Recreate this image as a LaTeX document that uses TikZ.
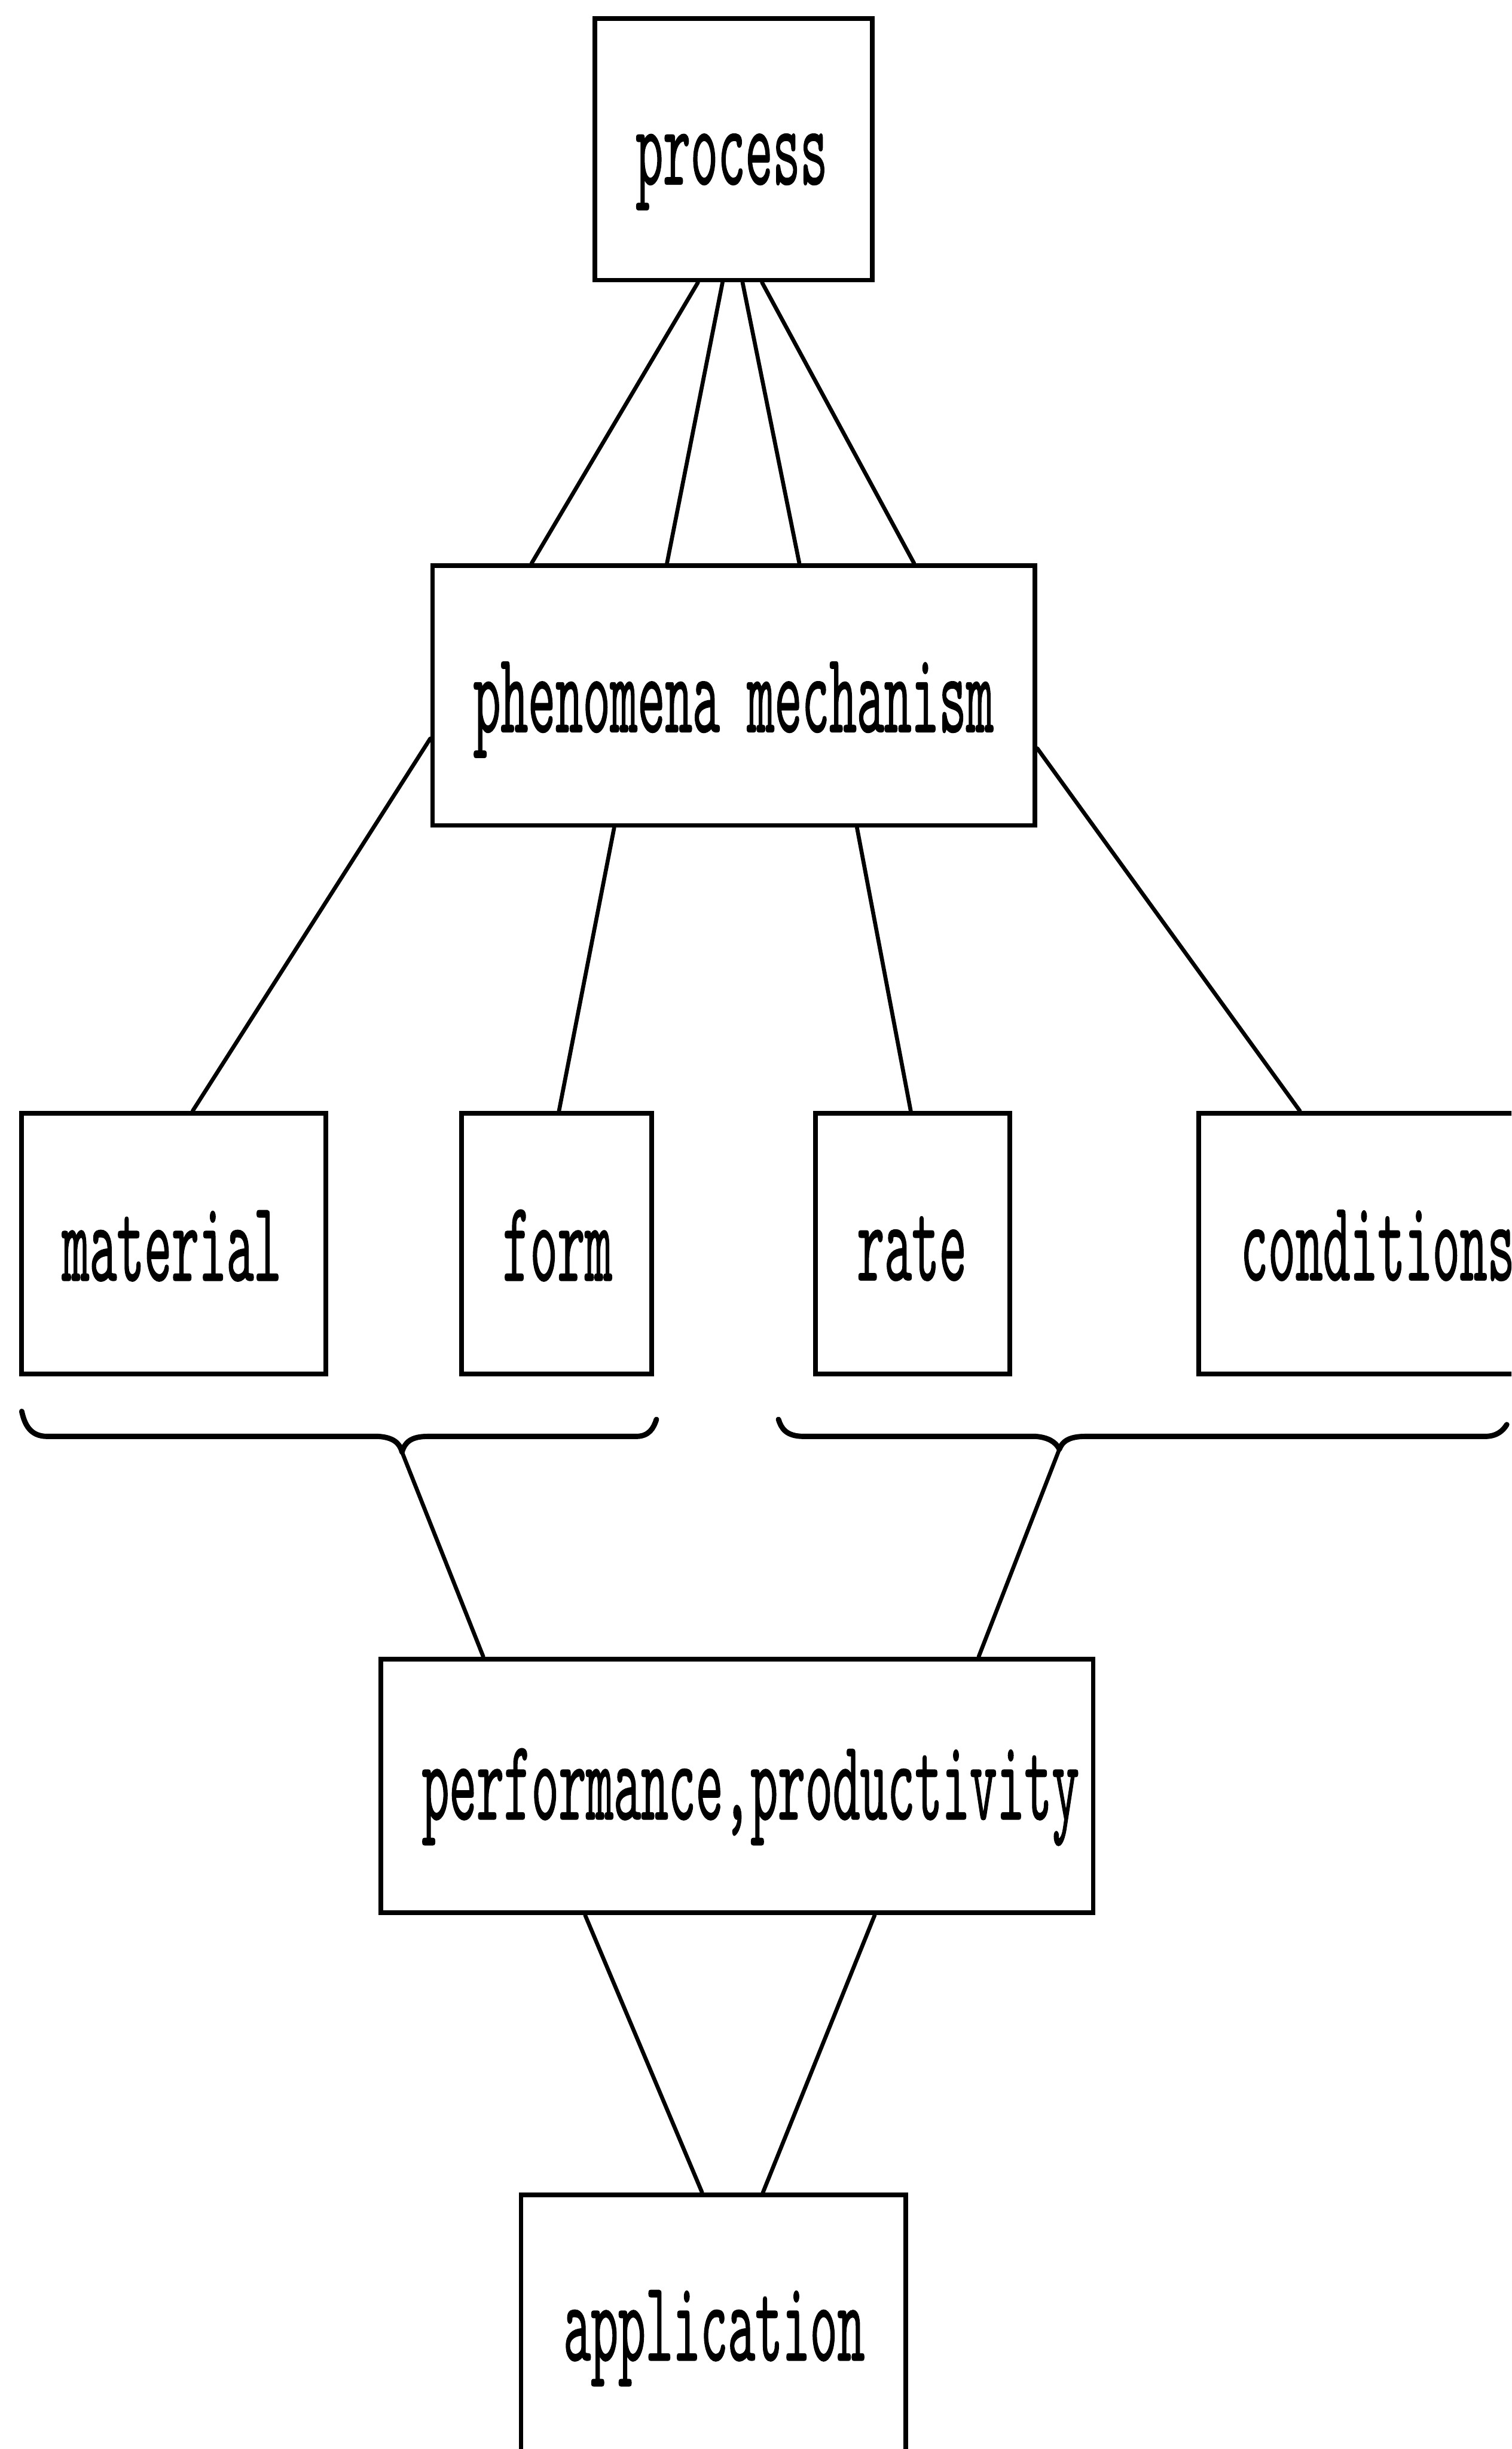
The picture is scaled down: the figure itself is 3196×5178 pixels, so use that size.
\documentclass[tikz,border=0pt]{standalone}
\usepackage{fontspec}
\usetikzlibrary{calc}
\newfontfamily\labfont{lmmono10-regular}[Extension=.otf, FakeStretch=0.452, FakeBold=0.6]
\tikzset{
  box/.style={draw=black, line width=2.8pt, rectangle, inner sep=0pt, fill=none},
  lab/.style={anchor=base, inner sep=0pt, font=\fontsize{69.4}{70}\selectfont\labfont},
  conn/.style={draw=black, line width=2.4pt, line cap=round},
  bracepath/.style={draw=black, line width=3.2pt, line cap=round, line join=round}
}
\begin{document}
\begin{tikzpicture}[x=0.01cm, y=-0.01cm]
\useasboundingbox (0,0) rectangle (3196,5178);
\clip (0,0) rectangle (3196,5178);
\fill[white] (0,0) rectangle (3196,5178);

% boxes
\node[box, minimum width=5.86cm, minimum height=5.53cm] (process) at (1551,315.5) {};
\node[box, minimum width=12.73cm, minimum height=5.49cm] (phen) at (1551.5,1470.5) {};
\node[box, minimum width=6.43cm, minimum height=5.51cm] (material) at (367.5,2629.5) {};
\node[box, minimum width=4.02cm, minimum height=5.51cm] (form) at (1177,2629.5) {};
\node[box, minimum width=4.11cm, minimum height=5.51cm] (rate) at (1929.5,2629.5) {};
\node[box, minimum width=7.85cm, minimum height=5.51cm] (cond) at (2927.5,2629.5) {};
\node[box, minimum width=15.05cm, minimum height=5.36cm] (perf) at (1558.5,3776) {};
\node[box, minimum width=8.13cm, minimum height=7.00cm] (appl) at (1508.5,4991) {};

% labels
\node[lab] (processT) at (1547,390) {process};
\node[lab] (phenT) at (1551,1548) {phenomena mechanism};
\node[lab] (materialT) at (363,2708) {material};
\node[lab] (formT) at (1179,2708) {form};
\node[lab] (rateT) at (1928,2707) {rate};
\node[lab] (condT) at (2913,2707) {conditions};
\node[lab] (perfT) at (1587,3847) {performance,productivity};
\node[lab] (applT) at (1510,4991) {application};

% process -> phenomena
\draw[conn] ($(process.south west)!0.374!(process.south east)$) -- ($(phen.north west)!0.167!(phen.north east)$);
\draw[conn] ($(process.south west)!0.461!(process.south east)$) -- ($(phen.north west)!0.390!(phen.north east)$);
\draw[conn] ($(process.south west)!0.532!(process.south east)$) -- ($(phen.north west)!0.608!(phen.north east)$);
\draw[conn] ($(process.south west)!0.601!(process.south east)$) -- ($(phen.north west)!0.797!(phen.north east)$);

% phenomena -> second row
\draw[conn] ($(phen.north west)!0.663!(phen.south west)$) -- ($(material.north west)!0.561!(material.north east)$);
\draw[conn] ($(phen.south west)!0.303!(phen.south east)$) -- ($(form.north west)!0.512!(form.north east)$);
\draw[conn] ($(phen.south west)!0.703!(phen.south east)$) -- ($(rate.north west)!0.491!(rate.north east)$);
\draw[conn] ($(phen.north east)!0.70!(phen.south east)$) -- ($(cond.north west)!0.275!(cond.north east)$);

% braces
\coordinate (lbtip) at (850,3070);
\coordinate (rbtip) at (2240,3064);
\draw[bracepath] (46,2984) .. controls (52,3012) and (64,3037) .. (100,3037)
  -- (800,3037) .. controls (830,3039) and (845,3050) .. (lbtip)
  .. controls (856,3050) and (868,3037) .. (905,3037)
  -- (1345,3037) .. controls (1372,3037) and (1382,3020) .. (1388,3001);
\draw[bracepath] (1646,3001) .. controls (1652,3020) and (1662,3037) .. (1700,3037)
  -- (2190,3037) .. controls (2215,3039) and (2232,3048) .. (rbtip)
  .. controls (2246,3048) and (2260,3037) .. (2295,3037)
  -- (3140,3037) .. controls (3165,3037) and (3178,3025) .. (3186,3012);

% braces -> performance
\draw[conn] (lbtip) -- ($(perf.north west)!0.146!(perf.north east)$);
\draw[conn] (rbtip) -- ($(perf.north west)!0.837!(perf.north east)$);

% performance -> application
\draw[conn] ($(perf.south west)!0.288!(perf.south east)$) -- ($(appl.north west)!0.471!(appl.north east)$);
\draw[conn] ($(perf.south west)!0.692!(perf.south east)$) -- ($(appl.north west)!0.627!(appl.north east)$);
\end{tikzpicture}
\end{document}
